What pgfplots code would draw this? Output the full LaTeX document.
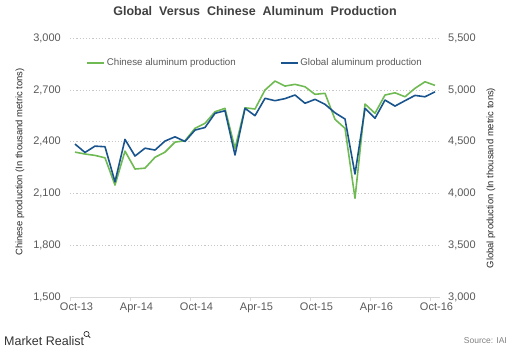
\documentclass[border=0pt]{standalone}
\usepackage{pgfplots}
\pgfplotsset{compat=1.18}
\usepackage{pgfplotstable}
\usepackage{fontspec}
\setmainfont{Liberation Sans}
\definecolor{cgreen}{RGB}{112,186,84}
\definecolor{cblue}{RGB}{26,84,142}
\definecolor{tickgray}{RGB}{89,89,89}
\definecolor{gridgray}{RGB}{200,200,200}
\definecolor{axisgray}{RGB}{217,217,217}
\pgfplotstableread{
m v
0 2340
1 2329
2 2321
3 2307
4 2149
5 2346
6 2242
7 2247
8 2310
9 2340
10 2398
11 2406
12 2478
13 2507
14 2574
15 2594
16 2362
17 2597
18 2590
19 2700
20 2752
21 2723
22 2733
23 2719
24 2675
25 2681
26 2530
27 2478
28 2072
29 2619
30 2565
31 2671
32 2684
33 2661
34 2710
35 2748
36 2727
}\chinesedata
\pgfplotstableread{
m v
0 4478
1 4397
2 4458
3 4452
4 4113
5 4523
6 4362
7 4438
8 4420
9 4507
10 4548
11 4503
12 4613
13 4638
14 4775
15 4800
16 4372
17 4823
18 4752
19 4920
20 4897
21 4917
22 4952
23 4872
24 4910
25 4862
26 4780
27 4720
28 4188
29 4823
30 4727
31 4903
32 4845
33 4897
34 4948
35 4935
36 4983
}\globaldata
\begin{document}
\begin{tikzpicture}[x=1pt,y=1pt]
\useasboundingbox (0,0) rectangle (512,358);
\pgfplotsset{
  common/.style={
    at={(70pt,61pt)}, anchor=south west,
    scale only axis, width=370pt, height=258.7pt,
    xmin=-0.5, xmax=36.5,
    /pgf/number format/assume math mode=true,
    /pgf/number format/1000 sep={,},
    ticklabel style={font=\fontsize{11}{12}\selectfont, text=tickgray},
    major tick length=0pt,
  }
}
\begin{axis}[common,
  ymin=1500, ymax=3000, ytick={1500,1800,...,3000},
  axis x line*=bottom, axis y line*=left,
  y axis line style={draw=none},
  x axis line style={draw=axisgray, line width=0.8pt},
  xtick={0,6,...,36},
  xticklabels={Oct-13,Apr-14,Oct-14,Apr-15,Oct-15,Apr-16,Oct-16},
  minor xtick={-0.5,5.5,...,36},
  minor tick length=4pt,
  tick align=outside,
  minor tick style={draw=axisgray, line width=0.8pt},
  xticklabel style={inner sep=0pt, anchor=north, yshift=-6pt, xshift=1.5pt},
  yticklabel style={inner sep=0pt, anchor=east, xshift=-9pt},
  ymajorgrids,
  grid style={draw=gridgray, line width=0.6pt, dash pattern=on 1.2pt off 2pt},
]
\addplot[cgreen, line width=1.6pt, line join=round] table[x=m,y=v]{\chinesedata};
\end{axis}
\begin{axis}[common,
  ymin=3000, ymax=5500, ytick={3000,3500,...,5500},
  axis y line*=right, axis x line=none,
  y axis line style={draw=none},
  yticklabel style={inner sep=0pt, anchor=west, xshift=8pt},
  legend columns=2,
  legend style={draw=none, fill=none, at={(0.5,0.905)}, anchor=center,
    font=\fontsize{9.75}{11}\selectfont, text=tickgray,
    /tikz/every even column/.append style={column sep=42pt},
    inner sep=0pt},
  legend image code/.code={\draw[#1] (0pt,0pt) -- (17pt,0pt);},
]
\addlegendimage{cgreen, line width=1.6pt}
\addlegendentry{Chinese aluminum production}
\addplot[cblue, line width=1.6pt, line join=round] table[x=m,y=v]{\globaldata};
\addlegendentry{Global aluminum production}
\end{axis}
\node[font=\bfseries\fontsize{12.5}{14}\selectfont, text=black!75, align=center] at (255,346.5) {Global\ \ Versus\ \ Chinese\ \ Aluminum\ \ Production};
\node[rotate=90, font=\fontsize{9.4}{11}\selectfont, text=black!85] at (20,196) {Chinese production (In thousand metric tons)};
\node[rotate=90, font=\fontsize{9.4}{11}\selectfont, text=black!85] at (491,180) {Global production (In thousand metric tons)};
\node[anchor=west, font=\fontsize{12.5}{14}\selectfont, text=black!80, inner sep=0pt] at (4,17) {Market Realist};
\draw[black!80, line width=0.7pt] (86.5,24) circle (2.6);
\draw[black!80, line width=0.9pt] (88.4,22.1) -- (90.2,20.3);
\node[anchor=east, font=\fontsize{8.5}{10}\selectfont, text=black!50, inner sep=0pt] at (507,17) {Source: IAI};
\end{tikzpicture}
\end{document}
